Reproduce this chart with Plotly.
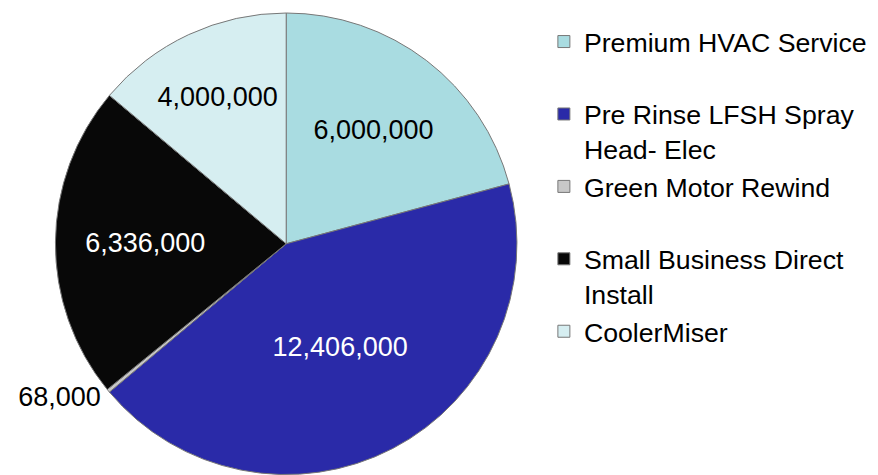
import plotly.graph_objects as go

labels = ["Premium HVAC Service", "Pre Rinse LFSH Spray Head- Elec", "Green Motor Rewind",
          "Small Business Direct Install", "CoolerMiser"]
legend_text = ["Premium HVAC Service<br> ", "Pre Rinse LFSH Spray<br>Head- Elec", "Green Motor Rewind<br> ",
               "Small Business Direct<br>Install", "CoolerMiser"]
values = [6000000, 12406000, 68000, 6336000, 4000000]
colors = ["#A9DCE1", "#2A2AA8", "#C8C8C8", "#080808", "#D6EEF1"]
text_colors = ["black", "white", "black", "white", "black"]
positions = ["inside", "inside", "outside", "inside", "inside"]

fig = go.Figure(go.Pie(
    labels=legend_text,
    values=values,
    sort=False,
    direction="clockwise",
    rotation=0,
    marker=dict(colors=colors, line=dict(color="#777777", width=1)),
    texttemplate="%{value:,}",
    textposition=positions,
    insidetextorientation="horizontal",
    insidetextfont=dict(color=text_colors, size=27, family="Liberation Sans, Arial"),
    outsidetextfont=dict(color="black", size=27, family="Liberation Sans, Arial"),
    domain=dict(x=[0.048, 0.581], y=[0.018, 1.0]),
    hoverinfo="label+value",
))

fig.update_layout(
    width=878, height=475,
    margin=dict(l=0, r=0, t=0, b=0),
    paper_bgcolor="white",
    plot_bgcolor="white",
    font=dict(family="Liberation Sans, Arial", size=27, color="black"),
    legend=dict(x=0.609, y=0.99, xanchor="left", yanchor="top", valign="top",
                font=dict(size=26.7), bgcolor="rgba(0,0,0,0)"),
)

fig.write_html("out.html")
